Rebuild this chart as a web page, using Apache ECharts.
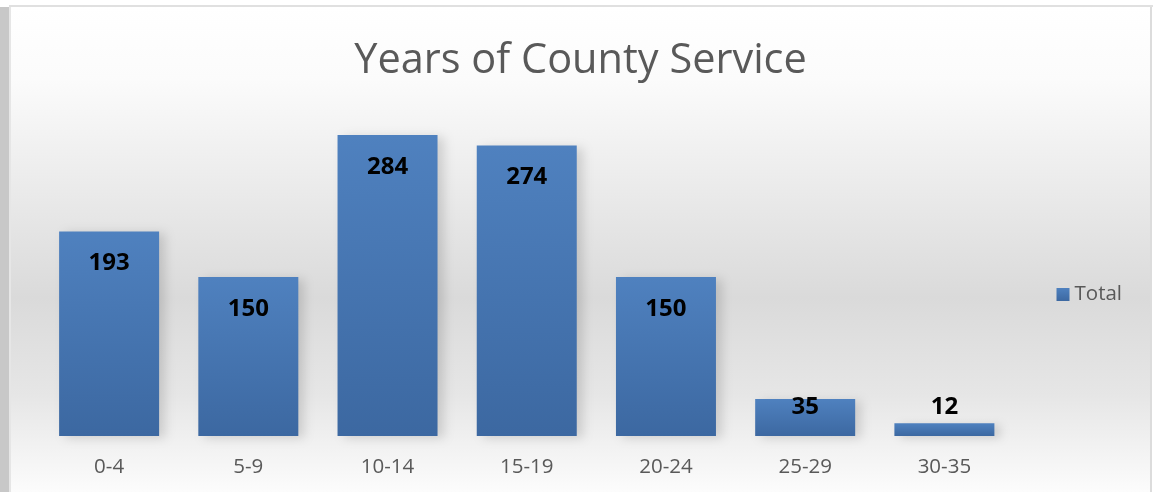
<!DOCTYPE html>
<html>
<head>
<meta charset="utf-8">
<script src="https://cdn.jsdelivr.net/npm/echarts@6/dist/echarts.min.js"></script>
<style>
html,body{margin:0;padding:0;background:#fff;width:1153px;height:492px;overflow:hidden;}
#strip{position:absolute;left:0;top:7px;width:9px;height:485px;background:#c8c8c8;}
#topline{position:absolute;left:9px;top:5px;width:1144px;height:2px;background:#e0e0e0;}
#rightline{position:absolute;left:1150px;top:7px;width:2px;height:485px;background:#dcdcdc;}
#leftline{position:absolute;left:9px;top:7px;width:2px;height:485px;background:#e6e6e6;}
#chart{position:absolute;left:11px;top:7px;width:1139px;height:485px;}
</style>
</head>
<body>
<div id="strip"></div><div id="topline"></div><div id="leftline"></div><div id="rightline"></div>
<div id="chart"></div>
<script>
const categories = ['0-4','5-9','10-14','15-19','20-24','25-29','30-35'];
const totals = [193,150,284,274,150,35,12];
const seriesName = 'Total';
const titleText = 'Years of County Service';

const chart = echarts.init(document.getElementById('chart'), null, {renderer:'canvas'});
chart.setOption({
  animation:false,
  backgroundColor:{type:'linear',x:0,y:0,x2:0,y2:1,colorStops:[
    {offset:0,color:'#ffffff'},
    {offset:0.15,color:'#fbfbfb'},
    {offset:0.6,color:'#dadada'},
    {offset:0.8,color:'#e6e6e6'},
    {offset:1,color:'#fcfcfc'}
  ]},
  title:{text:titleText,left:'center',top:28,textStyle:{fontFamily:'Open Sans',fontWeight:'normal',fontSize:41.5,color:'#595959'}},
  legend:{data:[seriesName],right:23,top:272,orient:'vertical',itemWidth:13,itemHeight:13,itemGap:6,icon:'rect',
    textStyle:{fontFamily:'Open Sans',fontSize:20.5,color:'#595959'}},
  grid:{left:28.5,right:136,top:111,bottom:56,containLabel:false},
  xAxis:{type:'category',data:categories,axisLine:{show:false},axisTick:{show:false},
    axisLabel:{fontFamily:'Open Sans',fontSize:20.5,color:'#595959',margin:21}},
  yAxis:{type:'value',min:0,max:300,show:false,splitLine:{show:false}},
  series:[{
    name:seriesName,type:'bar',
    data:totals.map(v => v < 60 ? {value:v,label:{position:'insideBottom',distance:17}} : v),
    barWidth:100,
    itemStyle:{color:{type:'linear',x:0,y:0,x2:0,y2:1,colorStops:[{offset:0,color:'#4f81bf'},{offset:1,color:'#3c68a1'}]},
      shadowColor:'rgba(0,0,0,0.14)',shadowBlur:10,shadowOffsetX:6,shadowOffsetY:2},
    label:{show:true,position:'insideTop',distance:20,fontFamily:'Noto Sans',fontWeight:'bold',fontSize:24,color:'#000'}
  }]
});
</script>
</body>
</html>
